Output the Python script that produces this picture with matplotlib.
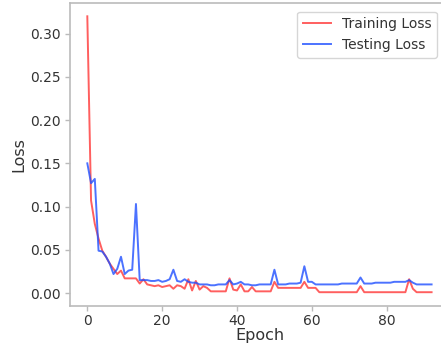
import matplotlib
matplotlib.use("Agg")
import matplotlib.pyplot as plt
import numpy as np

train_loss = [
    0.320, 0.107, 0.080, 0.063, 0.049, 0.042, 0.034, 0.028, 0.022, 0.026,
    0.017, 0.017, 0.017, 0.017, 0.011, 0.016, 0.010, 0.009, 0.008, 0.009,
    0.007, 0.008, 0.009, 0.005, 0.009, 0.008, 0.005, 0.016, 0.003, 0.014,
    0.004, 0.008, 0.006, 0.002, 0.002, 0.002, 0.002, 0.002, 0.017, 0.004,
    0.003, 0.010, 0.002, 0.002, 0.007, 0.002, 0.002, 0.002, 0.002, 0.002,
    0.013, 0.006, 0.006, 0.006, 0.006, 0.006, 0.006, 0.006, 0.013, 0.006,
    0.006, 0.006, 0.001, 0.001, 0.001, 0.001, 0.001, 0.001, 0.001, 0.001,
    0.001, 0.001, 0.001, 0.008, 0.001, 0.001, 0.001, 0.001, 0.001, 0.001,
    0.001, 0.001, 0.001, 0.001, 0.001, 0.001, 0.016, 0.005, 0.001, 0.001,
    0.001, 0.001, 0.001,
]
test_loss = [
    0.150, 0.127, 0.132, 0.049, 0.048, 0.042, 0.034, 0.022, 0.028, 0.042,
    0.022, 0.026, 0.027, 0.103, 0.015, 0.015, 0.015, 0.014, 0.014, 0.015,
    0.013, 0.014, 0.016, 0.027, 0.014, 0.013, 0.016, 0.013, 0.012, 0.012,
    0.010, 0.010, 0.010, 0.009, 0.009, 0.010, 0.010, 0.010, 0.015, 0.010,
    0.011, 0.013, 0.010, 0.010, 0.009, 0.009, 0.010, 0.010, 0.010, 0.010,
    0.027, 0.010, 0.010, 0.010, 0.011, 0.011, 0.011, 0.012, 0.031, 0.013,
    0.013, 0.010, 0.010, 0.010, 0.010, 0.010, 0.010, 0.010, 0.011, 0.011,
    0.011, 0.011, 0.011, 0.018, 0.011, 0.011, 0.011, 0.012, 0.012, 0.012,
    0.012, 0.012, 0.013, 0.013, 0.013, 0.013, 0.015, 0.012, 0.010, 0.010,
    0.010, 0.010, 0.010,
]
epochs = np.arange(len(train_loss))

text_color = "#333333"
spine_color = "#bbbbbb"

fig = plt.figure(figsize=(4.41, 3.46), dpi=100)
ax = fig.add_axes([70.1 / 441, (346 - 306) / 346, (448.8 - 70.1) / 441, (306 - 2.5) / 346])

ax.plot(epochs, train_loss, color="#ff2a2a", alpha=0.75, lw=1.4, label="Training Loss")
ax.plot(epochs, test_loss, color="#1f4fff", alpha=0.8, lw=1.4, label="Testing Loss")

ax.set_xlabel("Epoch", fontsize=11.5, color=text_color, labelpad=0)
ax.set_ylabel("Loss", fontsize=11.5, color=text_color, labelpad=2)
ax.set_yticks([0.0, 0.05, 0.10, 0.15, 0.20, 0.25, 0.30])
ax.yaxis.set_major_formatter(matplotlib.ticker.FormatStrFormatter("%.2f"))
ax.set_xticks([0, 20, 40, 60, 80])
ax.tick_params(labelsize=10, colors=spine_color, labelcolor=text_color, width=1, length=3.5)
ax.tick_params(axis="x", pad=2)
for s in ax.spines.values():
    s.set_color(spine_color)
    s.set_linewidth(1.2)

leg = ax.legend(loc="upper right", bbox_to_anchor=(437 / 441, 1 - 11.7 / 346),
                bbox_transform=fig.transFigure, fontsize=10, frameon=True,
                borderaxespad=0)
for t in leg.get_texts():
    t.set_color(text_color)

fig.savefig("out.png", dpi=100)
